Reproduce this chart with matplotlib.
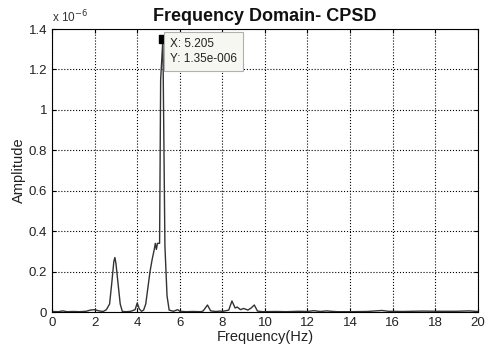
import numpy as np
import matplotlib.pyplot as plt

plt.rcParams['font.family'] = ['Liberation Sans', 'DejaVu Sans']

# CPSD amplitude, in units of 1e-6
freq = [0.0, 0.3, 0.5, 0.7, 1.0, 1.3, 1.6, 1.8, 2.0, 2.2, 2.4, 2.55, 2.7, 2.8, 2.9,
        2.95, 3.0, 3.1, 3.2, 3.3, 3.5, 3.7, 3.9, 4.0, 4.1, 4.2, 4.3, 4.4, 4.5, 4.6,
        4.7, 4.8, 4.85, 4.9, 4.95, 5.05, 5.1, 5.205, 5.3, 5.4, 5.5, 5.7, 5.9, 6.0,
        6.3, 6.6, 7.0, 7.1, 7.3, 7.45, 7.7, 7.9, 8.0, 8.3, 8.45, 8.6, 8.7, 8.85,
        9.0, 9.2, 9.35, 9.5, 9.65, 9.9, 10.5, 11.0, 11.6, 12.0, 12.3, 12.6, 12.9,
        13.1, 13.4, 14.0, 14.8, 15.5, 15.8, 16.5, 17.4, 18.2, 19.0, 19.6, 20.0]
amp = [0.003, 0.002, 0.006, 0.002, 0.003, 0.002, 0.004, 0.010, 0.012, 0.006, 0.003,
       0.012, 0.04, 0.14, 0.25, 0.27, 0.24, 0.14, 0.04, 0.003, 0.002, 0.004, 0.012,
       0.045, 0.015, 0.004, 0.01, 0.04, 0.12, 0.20, 0.26, 0.31, 0.34, 0.31, 0.34,
       0.34, 1.15, 1.35, 0.33, 0.08, 0.01, 0.004, 0.012, 0.004, 0.002, 0.003, 0.002,
       0.006, 0.035, 0.006, 0.003, 0.005, 0.003, 0.01, 0.055, 0.02, 0.025, 0.012,
       0.018, 0.01, 0.02, 0.035, 0.005, 0.002, 0.003, 0.002, 0.004, 0.003, 0.007,
       0.003, 0.006, 0.004, 0.002, 0.002, 0.003, 0.008, 0.004, 0.003, 0.005, 0.004,
       0.004, 0.006, 0.003]

tip_x = 5.205
tip_y = 1.35

fig = plt.figure(figsize=(4.87, 3.46), dpi=100)
ax = fig.add_axes([0.107, 0.098, 0.874, 0.818])
ax.plot(freq, amp, color='#333333', lw=1.0)
ax.plot([tip_x], [tip_y], marker='s', color='black', ms=6, ls='none')
ax.text(5.55, 1.29, 'X: 5.205\nY: 1.35e-006', fontsize=8.5, va='center', ha='left',
        linespacing=1.35, color='#222222',
        bbox=dict(boxstyle='square,pad=0.5', fc='#f7f7f2', ec='#b0b0b0', lw=0.8))

ax.set_xlim(0, 20)
ax.set_ylim(0, 1.4)
ax.set_xticks(np.arange(0, 21, 2))
ax.set_yticks([0, 0.2, 0.4, 0.6, 0.8, 1, 1.2, 1.4])
ax.set_yticklabels(['0', '0.2', '0.4', '0.6', '0.8', '1', '1.2', '1.4'])
ax.grid(True, color='black', linestyle=':', lw=0.8)
ax.tick_params(direction='in', labelsize=9.5, top=True, right=True, length=3,
               labelcolor='#222222')
ax.set_xlabel('Frequency(Hz)', fontsize=10.5, labelpad=1, color='#222222')
ax.set_ylabel('Amplitude', fontsize=10.5, labelpad=2, color='#222222')
ax.set_title('Frequency Domain- CPSD', fontsize=13, fontweight='bold', pad=6,
             color='#111111')
ax.text(0.0, 1.015, 'x 10$^{-6}$', transform=ax.transAxes, fontsize=8.5,
        ha='left', va='bottom', color='#333333')

plt.savefig('out.png', dpi=100)
